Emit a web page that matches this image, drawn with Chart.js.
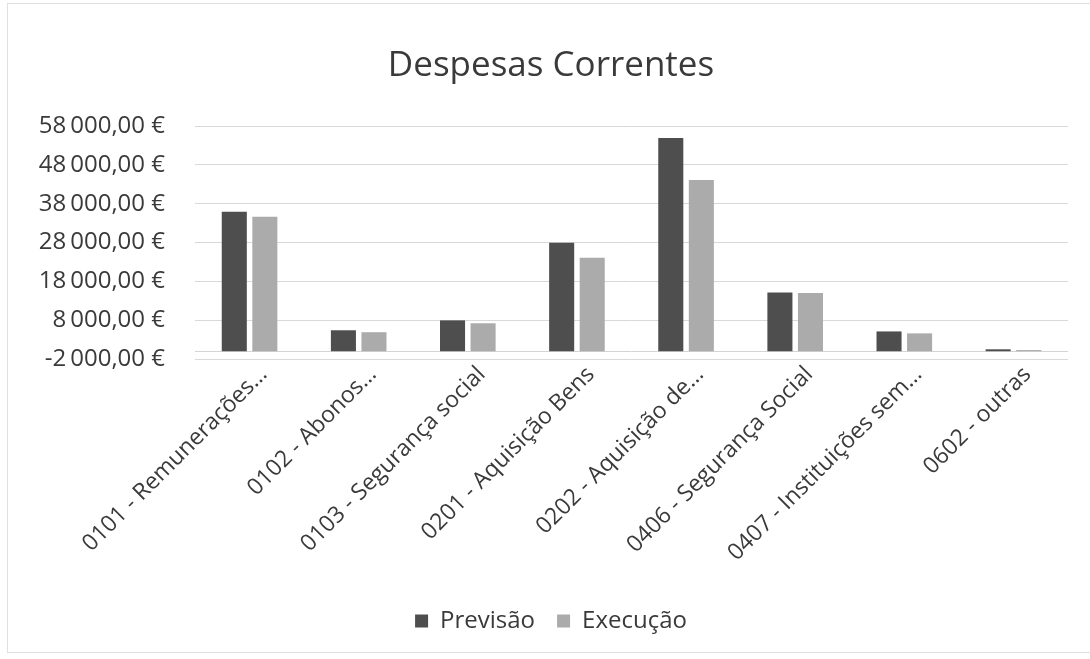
<!DOCTYPE html>
<html>
<head>
<meta charset="utf-8">
<script src="https://cdn.jsdelivr.net/npm/chart.js@4/dist/chart.umd.min.js"></script>
<style>
  html, body { margin: 0; padding: 0; background: #fff; overflow: hidden; }
  canvas { position: absolute; left: 0; top: 0; display: block; }
  #frame { position: absolute; left: 7px; top: 3px; width: 1100px; height: 650px; border: 1px solid #e0e0e0; box-sizing: border-box; }
</style>
</head>
<body>
<div id="frame"></div>
<canvas id="chart" width="1090" height="659"></canvas>
<script>
// categories and values
var categories = [
    "0101 - Remunerações…",
    "0102 - Abonos…",
    "0103 - Segurança social",
    "0201 - Aquisição Bens",
    "0202 - Aquisição de…",
    "0406 - Segurança Social",
    "0407 - Instituições sem…",
    "0602 - outras"
];
var previsao = [35900, 5400, 7950, 27950, 54900, 15100, 5100, 500];
var execucao = [34600, 4900, 7200, 24100, 44100, 15000, 4600, 300];

var yMin = -2000, yMax = 58000, yStep = 10000;

function euro(v) {
    var neg = v < 0;
    var s = Math.abs(v).toFixed(0).replace(/\B(?=(\d{3})+(?!\d))/g, "\u2009");
    return (neg ? "-" : "") + s + ",00\u00a0€";
}

// Excel draws the horizontal axis at 0
var zeroLine = {
    id: "zeroLine",
    beforeDatasetsDraw: function(chart) {
        var y = chart.scales.y.getPixelForValue(0);
        var ctx = chart.ctx;
        ctx.save();
        ctx.strokeStyle = "#d4d4d4";
        ctx.lineWidth = 1;
        ctx.beginPath();
        ctx.moveTo(chart.chartArea.left, Math.round(y) + 0.5);
        ctx.lineTo(chart.chartArea.right, Math.round(y) + 0.5);
        ctx.stroke();
        ctx.restore();
    }
};

var fontFamily = "'Open Sans', sans-serif";
var textColor = "#3a3a3a";

new Chart(document.getElementById("chart"), {
    type: "bar",
    data: {
        labels: categories,
        datasets: [
            { label: "Previsão", data: previsao, backgroundColor: "#4e4e4e",
              categoryPercentage: 0.56, barPercentage: 0.82 },
            { label: "Execução", data: execucao, backgroundColor: "#ababab",
              categoryPercentage: 0.56, barPercentage: 0.82 }
        ]
    },
    options: {
        responsive: false,
        animation: false,
        devicePixelRatio: 1,
        layout: { padding: { left: 34, right: 22, top: 0, bottom: 16 } },
        plugins: {
            title: {
                display: true,
                text: "Despesas Correntes",
                color: textColor,
                font: { family: fontFamily, size: 35, weight: "normal", lineHeight: 1.2 },
                padding: { top: 45, bottom: 39 }
            },
            legend: {
                position: "bottom",
                labels: {
                    color: textColor,
                    font: { family: fontFamily, size: 24 },
                    boxWidth: 13, boxHeight: 13, padding: 22
                }
            },
            tooltip: { enabled: false }
        },
        scales: {
            x: {
                grid: { display: false, drawTicks: false },
                border: { display: false },
                ticks: {
                    color: textColor,
                    font: { family: fontFamily, size: 23 },
                    minRotation: 45, maxRotation: 45,
                    autoSkip: false, padding: 2, labelOffset: 14
                },
                afterFit: function(scale) { scale.height = 228; }
            },
            y: {
                min: yMin, max: yMax,
                grid: { color: "#d9d9d9", drawTicks: false },
                border: { display: false },
                ticks: {
                    stepSize: yStep,
                    color: textColor,
                    font: { family: fontFamily, size: 24 },
                    padding: 30,
                    callback: function(v) { return euro(v); }
                },
                afterFit: function(scale) { scale.width = 161; }
            }
        }
    },
    plugins: [zeroLine]
});
</script>
</body>
</html>
